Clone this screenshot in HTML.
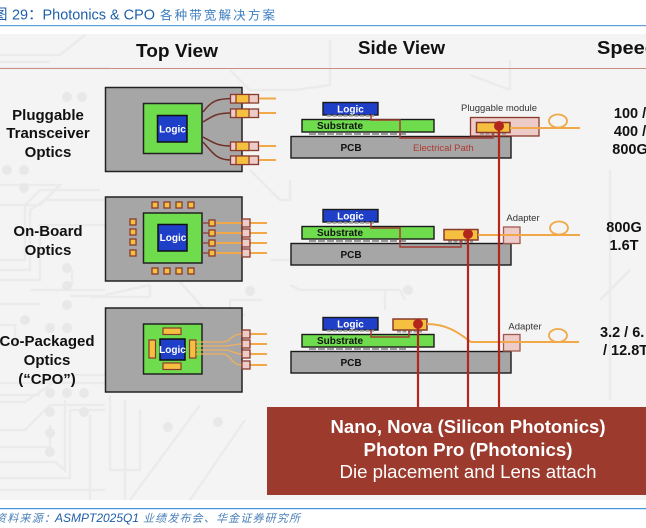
<!DOCTYPE html>
<html><head><meta charset="utf-8"><style>
html,body{margin:0;padding:0;background:#fff;width:646px;height:528px;overflow:hidden}
svg{display:block;filter:blur(0.35px)}
text{font-family:"Liberation Sans","Noto Sans CJK SC",sans-serif}
.h{font-weight:bold;font-size:18px;fill:#111}
.l{font-weight:bold;font-size:15px;fill:#111;text-anchor:middle}
.s{font-weight:bold;font-size:14.5px;fill:#111;text-anchor:middle}
.lg{font-weight:bold;font-size:10px;fill:#fff;text-anchor:middle}
.sub{font-weight:bold;font-size:10px;fill:#111;text-anchor:middle}
.sm{font-size:9.5px;fill:#333;text-anchor:middle}
.w{fill:#fff;font-size:18px;text-anchor:middle}
</style></head><body>
<svg width="646" height="528" viewBox="0 0 646 528" xmlns="http://www.w3.org/2000/svg">
<defs>
<g id="side">
<rect x="291" y="136.500" width="220" height="21.500" fill="#a6a6a6" stroke="#1a1a1a" stroke-width="1.400"/>
<rect x="302" y="119.500" width="132" height="12.500" fill="#6fdc4e" stroke="#1a1a1a" stroke-width="1.400"/>
<rect x="323" y="102.500" width="55" height="12.500" fill="#1f3fc8" stroke="#1a1a1a" stroke-width="1.400"/>
<path d="M327 115.800H374" stroke="#999" stroke-width="2" stroke-dasharray="4 1.500"/>
<path d="M309 133.800H406" stroke="#999" stroke-width="2.400" stroke-dasharray="7 2"/>
<text class="lg" x="350.500" y="112.500">Logic</text>
<text class="sub" x="340" y="129">Substrate</text>
<text class="sub" x="351" y="151">PCB</text>
</g>
<g id="pk"><rect width="8" height="8" fill="#eccbc8" stroke="#8a3a2c" stroke-width="1.300"/></g>
<g id="sq"><rect width="6" height="6" fill="#f5c040" stroke="#8a3a2c" stroke-width="1.300"/></g>
<g id="tc">
<rect x="230.500" y="-4" width="28" height="8.500" fill="#eccbc8" stroke="#8a3a2c" stroke-width="1.300"/>
<rect x="236" y="-4" width="13" height="8.500" fill="#f5c040" stroke="#8a3a2c" stroke-width="1.200"/>
<path d="M259 0H276" stroke="#f0a848" stroke-width="2"/>
</g>
</defs>

<rect x="0" y="34" width="646" height="466" fill="#f4f4f4"/>
<g fill="none" stroke="#ebebeb" stroke-width="2.500">
<path d="M0 55H60L85 35M0 62H50M0 68H110"/>
<path d="M0 185H60L40 205H0M0 260H25V205L40 190H100M0 270H30V210L45 200H105M0 280H40V225H105"/>
<path d="M30 290H105M72 286V270M70 296H105M40 304H0"/>
<path d="M0 325H15V335M0 345H15V325M0 383H105M0 395H40M0 402H25L65 375H105"/>
<path d="M0 430H25L50 405H105M0 447H50V425M0 462H55L65 470V400M0 478H70V410H105M0 490H105M90 415V500"/>
<path d="M110 395V470H140V410M125 400V500M200 405L130 500M245 420L190 500"/>
<path d="M105 295L150 285M150 285V297H90M180 282L205 310M230 300V340M230 300H262M245 315H225"/>
<path d="M290 180V200H280L250 170M290 260H270M290 285L300 290H400M400 290L405 300M385 290V310"/>
<path d="M330 40V70M330 70V85L295 90H250L230 70"/>
<path d="M470 75L510 90M510 60V90"/>
<path d="M610 170V400M600 300L630 270"/>
</g>
<g fill="#e8e8e8">
<circle cx="67" cy="97" r="5"/><circle cx="82" cy="97" r="5"/><circle cx="7" cy="170" r="5"/><circle cx="24" cy="170" r="5"/><circle cx="24" cy="188" r="5"/>
<circle cx="67" cy="268" r="5"/><circle cx="67" cy="286" r="5"/><circle cx="67" cy="305" r="5"/><circle cx="25" cy="320" r="5"/><circle cx="50" cy="328" r="5"/><circle cx="67" cy="328" r="5"/><circle cx="50" cy="393" r="5"/><circle cx="67" cy="393" r="5"/><circle cx="84" cy="393" r="5"/>
<circle cx="50" cy="412" r="5"/><circle cx="50" cy="433" r="5"/><circle cx="84" cy="412" r="5"/><circle cx="50" cy="452" r="5"/><circle cx="168" cy="427" r="5"/><circle cx="218" cy="422" r="5"/><circle cx="250" cy="291" r="5"/><circle cx="408" cy="290" r="5"/>
</g>

<!-- Title -->
<text x="-7" y="19.500" font-size="14.500" fill="#1f5fa8">图</text>
<text x="12" y="19.500" font-size="14.500" fill="#1f5fa8" textLength="143" lengthAdjust="spacingAndGlyphs">29：Photonics &amp; CPO</text>
<text x="160" y="19.500" font-size="12.500" fill="#3f7fc0" textLength="115">各种带宽解决方案</text>
<rect x="0" y="25" width="646" height="1.200" fill="#5a9fdc"/>

<!-- Headers -->
<text class="h" x="136" y="57" textLength="82" lengthAdjust="spacingAndGlyphs">Top View</text>
<text class="h" x="358" y="54" textLength="87" lengthAdjust="spacingAndGlyphs">Side View</text>
<text class="h" x="597" y="54" textLength="60" lengthAdjust="spacingAndGlyphs">Speed</text>
<rect x="0" y="68" width="646" height="1" fill="#c98f80"/>

<!-- Left labels -->
<text class="l" x="48" y="120">Pluggable</text>
<text class="l" x="48" y="138">Transceiver</text>
<text class="l" x="48" y="157">Optics</text>
<text class="l" x="48" y="236">On-Board</text>
<text class="l" x="48" y="255">Optics</text>
<text class="l" x="47" y="346">Co-Packaged</text>
<text class="l" x="47" y="365">Optics</text>
<text class="l" x="47" y="384">(“CPO”)</text>

<!-- Top view 1 -->
<rect x="105.500" y="87.500" width="136.500" height="84" fill="#a6a6a6" stroke="#222" stroke-width="1.500"/>
<rect x="143.500" y="103.500" width="58.500" height="50" fill="#6fdc4e" stroke="#222" stroke-width="1.500"/>
<rect x="157.500" y="115.500" width="29.500" height="26.500" fill="#1f3fc8" stroke="#111" stroke-width="1.500"/>
<text class="lg" x="172.500" y="132.500">Logic</text>
<g fill="none" stroke="#6e2f26" stroke-width="1.500">
<path d="M203 112C212 100 218 99 231 98.500"/>
<path d="M203 122C214 115 218 113 231 113"/>
<path d="M203 137C214 143 218 146 231 146"/>
<path d="M203 142C214 155 218 160 231 160"/>
</g>
<use href="#tc" y="98.500"/><use href="#tc" y="113"/><use href="#tc" y="146"/><use href="#tc" y="160"/>

<!-- Top view 2 -->
<rect x="105.500" y="197" width="136.500" height="84" fill="#a6a6a6" stroke="#222" stroke-width="1.500"/>
<rect x="143.500" y="213" width="58.500" height="50" fill="#6fdc4e" stroke="#222" stroke-width="1.500"/>
<rect x="158" y="224.500" width="29" height="26.500" fill="#1f3fc8" stroke="#111" stroke-width="1.500"/>
<text class="lg" x="173" y="241">Logic</text>
<g stroke="#f0a848" stroke-width="2"><path d="M216 223H267M216 233H267M216 243H267M216 253H267"/></g>
<g stroke="#8a3a2c" stroke-width="1.200"><path d="M202 223H209M202 233H209M202 243H209M202 253H209"/></g>
<use href="#sq" x="152" y="202"/><use href="#sq" x="164" y="202"/><use href="#sq" x="176" y="202"/><use href="#sq" x="188" y="202"/>
<use href="#sq" x="152" y="268"/><use href="#sq" x="164" y="268"/><use href="#sq" x="176" y="268"/><use href="#sq" x="188" y="268"/>
<use href="#sq" x="130" y="219"/><use href="#sq" x="130" y="229"/><use href="#sq" x="130" y="239"/><use href="#sq" x="130" y="250"/>
<use href="#sq" x="209" y="220"/><use href="#sq" x="209" y="230"/><use href="#sq" x="209" y="240"/><use href="#sq" x="209" y="250"/>
<use href="#pk" x="242" y="219"/><use href="#pk" x="242" y="229"/><use href="#pk" x="242" y="239"/><use href="#pk" x="242" y="249"/>

<!-- Top view 3 -->
<rect x="105.500" y="308" width="136.500" height="84" fill="#a6a6a6" stroke="#222" stroke-width="1.500"/>
<rect x="143.500" y="324" width="58.500" height="50" fill="#6fdc4e" stroke="#222" stroke-width="1.500"/>
<rect x="160" y="339" width="25" height="21" fill="#1f3fc8" stroke="#111" stroke-width="1.500"/>
<text class="lg" x="172.500" y="353">Logic</text>
<g fill="#f5c040" stroke="#8a3a2c" stroke-width="1.200">
<rect x="163" y="328" width="18" height="6.500"/><rect x="163" y="363" width="18" height="6.500"/>
<rect x="149" y="340" width="6.500" height="18"/><rect x="189.500" y="340" width="6.500" height="18"/>
</g>
<g fill="none" stroke="#f0b060" stroke-width="1.300">
<path d="M196 342H222C232 342 230 334 242 334"/>
<path d="M196 346H225C232 346 234 344 242 344"/>
<path d="M196 350H225C232 350 234 354 242 354"/>
<path d="M196 354H222C232 354 230 365 242 365"/>
</g>
<g stroke="#f0a848" stroke-width="2"><path d="M250 334H267M250 344H267M250 354H267M250 365H267"/></g>
<use href="#pk" x="242" y="330"/><use href="#pk" x="242" y="340"/><use href="#pk" x="242" y="350"/><use href="#pk" x="242" y="361"/>

<!-- Side views -->
<use href="#side"/>
<use href="#side" y="107"/>
<use href="#side" y="215"/>

<!-- Row 1 -->
<rect x="470.500" y="117.500" width="68.500" height="18.500" fill="#eccbc8" stroke="#8a3a2c" stroke-width="1.300"/>
<path d="M480 133.800H507" stroke="#999" stroke-width="2" stroke-dasharray="4 1.500"/>
<rect x="476.500" y="122.500" width="33.500" height="10" fill="#f5c040" stroke="#8a3a2c" stroke-width="1.500"/>
<path d="M510 128H580" stroke="#f0a848" stroke-width="2"/>
<ellipse cx="558" cy="121" rx="9" ry="6.500" fill="none" stroke="#f0a848" stroke-width="1.800"/>
<path d="M371 115V120H400V138H493V132" fill="none" stroke="#a33c30" stroke-width="1.500"/>
<text x="461" y="111" font-size="9.500" fill="#333">Pluggable module</text>
<text x="413" y="151" font-size="9.500" fill="#b03a30">Electrical Path</text>

<!-- Row 2 -->
<path d="M448 241.500H473" stroke="#999" stroke-width="2" stroke-dasharray="4 1.500"/>
<rect x="444" y="229.500" width="34" height="10.500" fill="#f5c040" stroke="#8a3a2c" stroke-width="1.500"/>
<rect x="503.500" y="227" width="16.500" height="16.500" fill="#eccbc8" stroke="#a05a50" stroke-width="1.300"/>
<path d="M478 235H580" stroke="#f0a848" stroke-width="2"/>
<ellipse cx="559" cy="228" rx="9" ry="6.500" fill="none" stroke="#f0a848" stroke-width="1.800"/>
<path d="M371 222V228H400V247H461V240" fill="none" stroke="#a33c30" stroke-width="1.500"/>
<text class="sm" x="523" y="221">Adapter</text>

<!-- Row 3 -->
<path d="M397 331.500H422" stroke="#999" stroke-width="2" stroke-dasharray="4 1.500"/>
<rect x="393" y="319" width="34" height="11" fill="#f5c040" stroke="#8a3a2c" stroke-width="1.500"/>
<rect x="503.500" y="334.500" width="16.500" height="16.500" fill="#eccbc8" stroke="#a05a50" stroke-width="1.300"/>
<path d="M427 324C448 324 460 334 471 342H579" fill="none" stroke="#f0a848" stroke-width="2"/>
<ellipse cx="558" cy="335.500" rx="9" ry="6.500" fill="none" stroke="#f0a848" stroke-width="1.800"/>
<path d="M371 330V337H409V330" fill="none" stroke="#a33c30" stroke-width="1.500"/>
<text class="sm" x="525" y="329.500">Adapter</text>

<!-- Vertical red lines -->
<g stroke="#b3261e" stroke-width="2.200"><path d="M499 126V408M468 234V408M418 324V408"/></g>
<g fill="#b3261e"><circle cx="499" cy="126" r="5"/><circle cx="468" cy="234" r="5"/><circle cx="418" cy="324" r="5"/></g>

<!-- Speeds -->
<text class="s" x="630" y="118">100 /</text>
<text class="s" x="630" y="136">400 /</text>
<text class="s" x="630" y="154">800G</text>
<text class="s" x="624" y="232">800G</text>
<text class="s" x="624" y="250">1.6T</text>
<text class="s" x="600" y="337" style="text-anchor:start">3.2 / 6.</text>
<text class="s" x="603" y="355" style="text-anchor:start">/ 12.8T</text>

<!-- Red box -->
<rect x="267" y="407" width="379" height="88" fill="#9b3a2d"/>
<text class="w" x="468" y="433" textLength="275" lengthAdjust="spacingAndGlyphs" style="font-weight:bold">Nano, Nova (Silicon Photonics)</text>
<text class="w" x="468" y="456" textLength="209" lengthAdjust="spacingAndGlyphs" style="font-weight:bold">Photon Pro (Photonics)</text>
<text class="w" x="468" y="478" textLength="257" lengthAdjust="spacingAndGlyphs">Die placement and Lens attach</text>

<!-- Footer -->
<rect x="0" y="508" width="646" height="1.200" fill="#3f95dc"/>
<text x="-5" y="522" font-size="11" font-style="italic" fill="#4a80b8" textLength="60">资料来源：</text>
<text x="55" y="522" font-size="11.500" font-style="italic" fill="#1f5fa8" textLength="84" lengthAdjust="spacingAndGlyphs">ASMPT2025Q1</text>
<text x="143" y="522" font-size="11" font-style="italic" fill="#4a80b8" textLength="157">业绩发布会、华金证券研究所</text>
</svg>
</body></html>
